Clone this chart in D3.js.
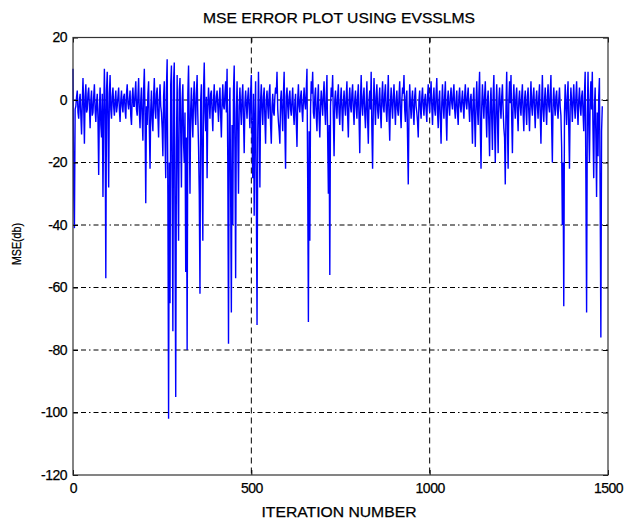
<!DOCTYPE html>
<html lang="en">
<head>
<meta charset="UTF-8">
<title>MSE error plot</title>
<script src="https://d3js.org/d3.v7.min.js"></script>
<style>
  body { margin: 0; background: #fff; }
  text { font-family: "Liberation Sans", Arial, sans-serif; fill: #000; stroke: #000; stroke-width: 0.25px; }
</style>
</head>
<body>
<script>
var step = 2;
var mse = [
  10,-30,-41,-3,-2,1,3,-4,-6,0,2,-5,-11,-1,7,-2,-14,1,5,-4,-3,2,4,-2,-9,0,3,-5,-4,1,5,-3,-7,-1,2,-6,-24,-3,4,-8,-12,2,-31,-5,10,-4,-57,3,9,-6,
  -28,2,8,-3,-6,1,4,-2,-5,0,3,-4,-2,1,4,-3,-7,0,3,-2,-4,1,2,-3,-6,2,5,-1,-3,0,3,-5,-8,1,4,-2,-2,2,6,-3,-5,1,7,-4,-9,0,4,-6,-13,3,
  10,-5,-33,-2,-8,2,6,-9,-22,-3,3,-6,-10,1,7,-3,-6,2,4,-5,-12,0,5,-2,-4,-9,-18,1,6,-12,-25,4,13,-30,-102,-20,-65,5,11,-28,-74,6,12,-40,-95,-15,8,-22,-45,3,
  7,-10,-28,0,5,-14,-20,-4,-55,-12,-80,2,11,-8,-30,-3,4,-6,-12,1,6,-3,-8,2,8,-5,-15,-30,-62,0,5,-20,-45,3,12,-4,-10,1,-25,-2,4,-1,-6,2,3,-4,-10,0,5,-3,
  -4,1,3,-2,-7,0,4,-5,-12,-1,5,-2,-3,2,6,-4,10,-20,-78,-5,4,-30,-68,-8,-40,3,11,-15,-57,-4,6,-10,-30,-2,4,-3,-8,1,5,-6,-17,-1,3,-2,-6,1,4,-3,-9,2,
  8,-12,-25,2,-37,-6,6,-30,-72,-10,9,-5,-28,0,5,-3,-8,1,4,-6,-14,0,3,-2,-6,2,5,-8,-14,-2,2,-4,-5,1,4,2,9,-3,-7,-10,-14,0,3,-4,-10,2,9,-9,-22,1,
  4,-2,-6,1,3,-3,-5,0,4,-4,-8,-1,2,-7,-15,0,5,-2,-4,1,3,-3,-7,0,4,-1,-3,3,10,-25,-71,-10,-45,-3,6,2,9,-4,-6,1,4,-5,-10,0,5,-6,-12,-2,3,-1,
  -5,2,6,-3,-8,1,8,-12,-30,-8,-56,-2,4,1,8,-6,-18,0,3,-2,-6,1,5,-4,-8,0,4,-3,-10,-1,3,-2,-5,1,6,-5,-12,0,4,-2,-4,2,5,-3,-8,0,3,-2,-6,1,
  5,-6,-17,0,8,-2,-5,1,4,-4,-9,-1,6,-6,-14,0,3,-3,9,-10,-22,-2,7,-1,-8,1,5,-3,-6,0,4,-4,-9,1,6,-2,-4,2,5,-3,-7,0,8,-5,-13,-1,4,-2,-6,1,
  5,-2,-8,0,3,-3,-5,1,6,-4,-9,0,4,2,8,-3,-7,1,3,-12,-27,-4,5,-1,-6,0,3,-4,-8,1,4,-2,-4,-7,-12,0,3,-3,-6,1,4,-2,-5,0,2,-3,-7,1,5,-1,
  -4,1,6,-2,-8,0,4,-3,-5,2,7,-4,-9,0,3,-6,-14,-1,5,-2,-6,1,6,-5,-13,0,3,-2,-5,1,4,-1,-3,2,5,-3,-6,0,3,-4,-8,1,4,-2,-4,0,3,-2,-6,1,
  5,-1,-3,1,4,-2,-7,0,2,-5,-14,0,4,-6,-15,-1,6,-3,-8,2,9,-9,-22,-2,5,-1,-6,1,6,-4,-12,0,3,-8,-18,-1,4,-6,-16,1,8,-8,-20,-2,5,-6,-17,0,4,-2,
  -6,1,5,-3,-9,-12,-27,-2,9,-8,-22,0,6,-1,8,-6,-17,-1,5,-2,-6,1,4,-4,-10,0,3,-2,-5,1,5,-4,-10,0,3,-3,-8,1,4,-4,-10,-1,6,-2,-5,1,4,-3,-9,0,
  3,-2,-6,1,5,-5,-14,-1,8,-3,-7,0,4,-3,-8,1,5,-2,-4,2,8,-8,-20,-1,4,-2,-5,1,3,-3,-6,0,4,-2,-5,-15,-40,-20,-66,-4,5,-2,-8,1,6,-9,-22,-2,4,-1,
  -7,0,5,-2,-6,1,6,-3,-8,0,4,-2,-5,1,3,-4,-10,2,9,-25,-68,-5,9,-8,-20,0,6,-3,9,-10,-25,-2,4,-12,-31,-4,-18,1,7,-30,-76,-10,-2
];
var xTicks = [0, 500, 1000, 1500];
var yTicks = [20, 0, -20, -40, -60, -80, -100, -120];
var gridX = [500, 1000];
var gridY = [0, -20, -40, -60, -80, -100];

var W = 630, H = 520;
var m = {left: 73, top: 37.5, right: 22, bottom: 45};
var w = W - m.left - m.right;
var h = H - m.top - m.bottom;

var svg = d3.select("body").append("svg")
  .attr("width", W)
  .attr("height", H);

var x = d3.scaleLinear().domain([0, 1500]).range([0, w]);
var y = d3.scaleLinear().domain([-120, 20]).range([h, 0]);

var g = svg.append("g").attr("transform", "translate(" + m.left + "," + m.top + ")");

// grid
g.selectAll("line.gy").data(gridY).enter().append("line")
  .attr("x1", 0).attr("x2", w)
  .attr("y1", function(d){ return y(d); })
  .attr("y2", function(d){ return y(d); })
  .attr("stroke", "#000").attr("stroke-width", 1)
  .attr("stroke-dasharray", "5,3,5,3,1.5,3");

g.selectAll("line.gx").data(gridX).enter().append("line")
  .attr("y1", 0).attr("y2", h)
  .attr("x1", function(d){ return x(d); })
  .attr("x2", function(d){ return x(d); })
  .attr("stroke", "#000").attr("stroke-width", 1)
  .attr("stroke-dasharray", "6,4");

// data
var line = d3.line()
  .x(function(d, i){ return x(i * step); })
  .y(function(d){ return y(d); });

g.append("path")
  .datum(mse)
  .attr("d", line)
  .attr("fill", "none")
  .attr("stroke", "#0000ff")
  .attr("stroke-width", 1.4);

// axes, ticks inside
var fmt = function(d){ return String(d); };

function styleAxis(sel){
  sel.select(".domain").remove();
  sel.selectAll(".tick line").attr("stroke", "#000");
  sel.selectAll(".tick text")
    .style("font-size", "14px")
    .style("letter-spacing", "-0.5px")
    .attr("fill", "#000");
}

g.append("g")
  .call(d3.axisLeft(y).tickValues(yTicks).tickFormat(fmt).tickSize(-5).tickSizeOuter(0).tickPadding(6))
  .call(styleAxis);

g.append("g")
  .attr("transform", "translate(" + w + ",0)")
  .call(d3.axisRight(y).tickValues(yTicks).tickSize(-5).tickSizeOuter(0).tickFormat(""))
  .call(styleAxis);

g.append("g")
  .attr("transform", "translate(0," + h + ")")
  .call(d3.axisBottom(x).tickValues(xTicks).tickFormat(fmt).tickSize(-5).tickSizeOuter(0).tickPadding(8))
  .call(styleAxis);

g.append("g")
  .call(d3.axisTop(x).tickValues(xTicks).tickSize(-5).tickSizeOuter(0).tickFormat(""))
  .call(styleAxis);

// box
g.append("rect")
  .attr("width", w).attr("height", h)
  .attr("fill", "none")
  .attr("stroke", "#333").attr("stroke-width", 1.2);

// titles
svg.append("text")
  .attr("x", 339).attr("y", 23)
  .attr("text-anchor", "middle")
  .attr("textLength", 272).attr("lengthAdjust", "spacingAndGlyphs")
  .style("font-size", "14px")
  .text("MSE ERROR PLOT USING EVSSLMS");

svg.append("text")
  .attr("x", 339).attr("y", 517)
  .attr("text-anchor", "middle")
  .attr("textLength", 155).attr("lengthAdjust", "spacingAndGlyphs")
  .style("font-size", "14px")
  .text("ITERATION NUMBER");

svg.append("text")
  .attr("transform", "translate(21,244) rotate(-90)")
  .attr("text-anchor", "middle")
  .attr("textLength", 42).attr("lengthAdjust", "spacingAndGlyphs")
  .style("font-size", "12px")
  .text("MSE(db)");
</script>
</body>
</html>
